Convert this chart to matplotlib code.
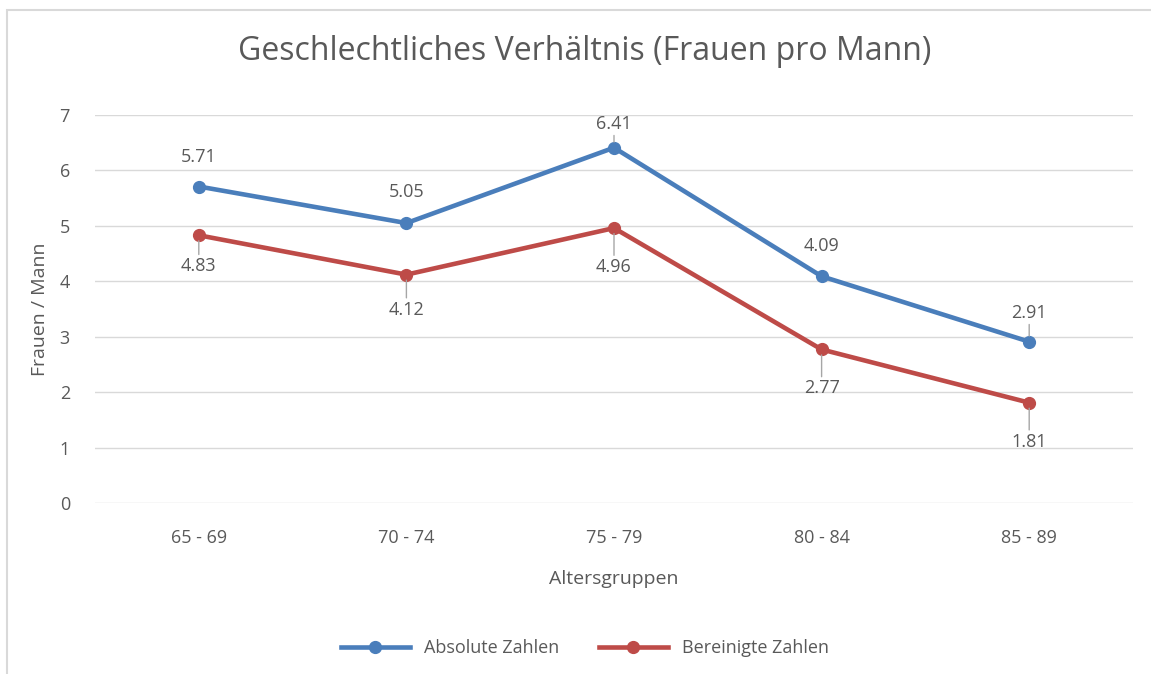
import matplotlib
matplotlib.use('Agg')
import matplotlib.pyplot as plt
from matplotlib.patches import Rectangle

# Daten
gruppen = ['65 - 69', '70 - 74', '75 - 79', '80 - 84', '85 - 89']
absolut = [5.71, 5.05, 6.41, 4.09, 2.91]
bereinigt = [4.83, 4.12, 4.96, 2.77, 1.81]

# Label-Abstaende in Pixeln (Mitte des Labels zum Punkt) und Fuehrungslinien
abs_offset = [30, 31, 24, 30, 29]
abs_leader = [False, False, True, False, True]
ber_offset = [-31, -35, -39, -39, -39]
ber_leader = [True, True, True, True, True]

blau = '#4A7EBB'
rot = '#BE4B48'
grau_text = '#595959'

plt.rcParams['font.family'] = ['Open Sans', 'DejaVu Sans']

fig = plt.figure(figsize=(11.51, 6.74), dpi=100)
ax = fig.add_axes([95 / 1151, 1 - 503 / 674, (1133 - 95) / 1151, (503 - 115) / 674])

# Rahmen des Diagrammbereichs
fig.patches.append(Rectangle((7 / 1151, -0.1), 1.2, 0.1 + 1 - 10 / 674,
                             transform=fig.transFigure, fill=False,
                             edgecolor='#D9D9D9', linewidth=1.5))

x = range(len(gruppen))
ax.plot(x, absolut, color=blau, linewidth=3.3, marker='o', markersize=8.5,
        label='Absolute Zahlen', zorder=3)
ax.plot(x, bereinigt, color=rot, linewidth=3.3, marker='o', markersize=8.5,
        label='Bereinigte Zahlen', zorder=3)


def beschriften(werte, offsets, leader):
    for i, (v, off, ld) in enumerate(zip(werte, offsets, leader)):
        props = None
        if ld:
            props = dict(arrowstyle='-', color='#A6A6A6', lw=1,
                         shrinkA=0, shrinkB=4)
        ax.annotate(f'{v:.2f}', xy=(i, v), xytext=(0, off * 0.72),
                    textcoords='offset points', ha='center', va='center',
                    fontsize=13, color=grau_text, arrowprops=props)


beschriften(absolut, abs_offset, abs_leader)
beschriften(bereinigt, ber_offset, ber_leader)

ax.set_xlim(-0.5, len(gruppen) - 0.5)
ax.set_ylim(0, 7)
ax.set_yticks(range(0, 8))
ax.set_xticks(list(x))
ax.set_xticklabels(gruppen)
ax.grid(axis='y', color='#D9D9D9', linewidth=1)
ax.set_axisbelow(True)
for s in ax.spines.values():
    s.set_visible(False)
ax.tick_params(length=0, labelsize=13, colors=grau_text)
ax.tick_params(axis='x', pad=19)
ax.tick_params(axis='y', pad=18)

ax.set_xlabel('Altersgruppen', fontsize=14, color=grau_text, labelpad=16)
ax.set_ylabel('Frauen / Mann', fontsize=14, color=grau_text, labelpad=8)

fig.text(585 / 1151, 1 - 52 / 674, 'Geschlechtliches Verhältnis (Frauen pro Mann)',
         ha='center', va='center', fontsize=23, color=grau_text)

fig.legend(loc='center', bbox_to_anchor=(585 / 1151, 1 - 648 / 674), ncol=2,
           frameon=False, fontsize=13, labelcolor=grau_text,
           handlelength=3.8, columnspacing=2.2)

fig.savefig('out.png', dpi=100)
